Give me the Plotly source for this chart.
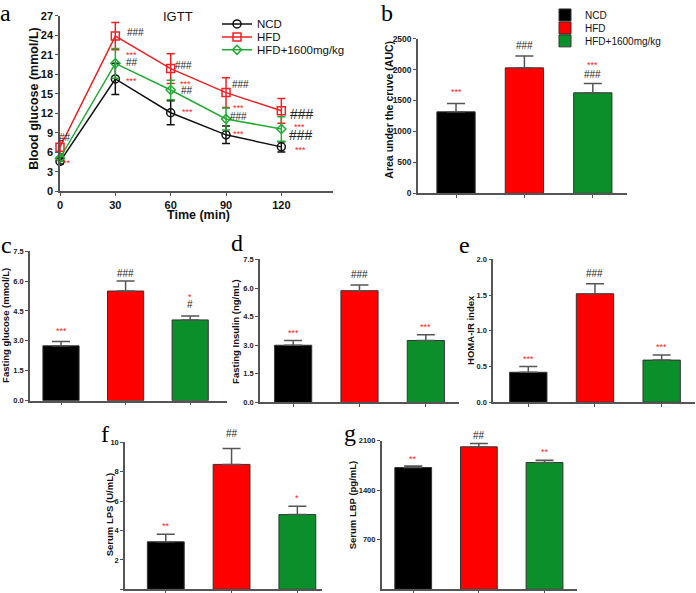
import plotly.graph_objects as go

# groups and colours
groups = ["NCD", "HFD", "HFD+1600mg/kg"]
bar_colors = ["#000000", "#ff0000", "#0a8f2a"]
line_colors = ["#111111", "#ee2222", "#22aa33"]
symbols = ["circle-open", "square-open", "diamond-open"]

# panel a - IGTT
time_min = [0, 30, 60, 90, 120]
glucose_ncd = [4.6, 17.3, 12.1, 8.7, 6.85]
glucose_ncd_sd = [0.4, 2.4, 1.85, 1.35, 0.8]
glucose_hfd = [6.8, 23.9, 18.9, 15.2, 12.4]
glucose_hfd_sd = [1.0, 2.1, 2.3, 2.3, 1.9]
glucose_trt = [5.1, 19.7, 15.6, 11.15, 9.6]
glucose_trt_sd = [0.5, 2.3, 1.5, 1.7, 1.9]

# bar panels
auc = [1317, 2027, 1624]
auc_sd = [135, 193, 150]
fast_glu = [2.75, 5.5, 4.05]
fast_glu_sd = [0.22, 0.5, 0.2]
fast_ins = [3.0, 5.86, 3.25]
fast_ins_sd = [0.25, 0.3, 0.3]
homa = [0.42, 1.52, 0.59]
homa_sd = [0.08, 0.14, 0.07]
lps = [3.23, 8.49, 5.08]
lps_sd = [0.52, 1.08, 0.56]
lbp = [1719, 2011, 1790]
lbp_sd = [20, 47, 33]

# significance marks (text, x, y, kind) per panel
marks_a = [("###", 40.8, 24.4, "h"), ("***", 39.0, 21.0, "s"), ("##", 39.3, 19.8, "h"), ("***", 38.6, 17.0, "s"),
           ("###", 66.7, 19.3, "h"), ("***", 68, 16.6, "s"), ("##", 68.9, 15.5, "h"), ("***", 69.2, 12.2, "s"),
           ("###", 97.9, 16.4, "h"), ("***", 96.6, 12.8, "s"), ("###", 97, 11.5, "h"), ("***", 96.6, 8.8, "s"),
           ("###", 131.4, 11.9, "H"), ("***", 130.1, 9.9, "s"), ("###", 130.5, 8.6, "H"), ("***", 130.5, 6.4, "s"),
           ("##", 2.7, 8.3, "h"), ("**", 3.6, 4.3, "s")]
marks_b = [("***", 0, 1640, "s"), ("###", 1, 2382, "h"), ("***", 2, 2070, "s"), ("###", 2, 1919, "h")]
marks_c = [("***", 0, 3.5, "s"), ("###", 1, 6.4, "h"), ("*", 2, 5.2, "s"), ("#", 2, 4.8, "h")]
marks_d = [("***", 0, 3.65, "s"), ("###", 1, 6.7, "h"), ("***", 2, 3.95, "s")]
marks_e = [("***", 0, 0.6, "s"), ("###", 1, 1.8, "h"), ("***", 2, 0.77, "s")]
marks_f = [("**", 0, 4.3, "s"), ("##", 1, 10.56, "h"), ("*", 2, 6.2, "s")]
marks_g = [("**", 0, 1837, "s"), ("##", 1, 2175, "h"), ("**", 2, 1940, "s")]

W, H = 696, 593
FONT = "Liberation Sans, Arial"


def px(x):
    return x / W


def py(y):
    return 1 - y / H


fig = go.Figure()

# one legend box per entry so the rows can sit as tight as in the original
legends_a = ["legend", "legend3", "legend4"]
legends_b = ["legend2", "legend5", "legend6"]

# ---- panel a
series = [(glucose_ncd, glucose_ncd_sd), (glucose_hfd, glucose_hfd_sd), (glucose_trt, glucose_trt_sd)]
for i, (vals, sd) in enumerate(series):
    fig.add_trace(go.Scatter(
        x=time_min, y=vals, name=groups[i], mode="lines+markers",
        line=dict(color=line_colors[i], width=1.5),
        marker=dict(symbol=symbols[i], size=8 if i < 2 else 7, color=line_colors[i], line=dict(width=1.5)),
        error_y=dict(type="data", array=sd, color=line_colors[i], thickness=1.5, width=4),
        cliponaxis=False, xaxis="x", yaxis="y", legend=legends_a[i]))

# ---- bar panels: (axis id, values, sd, x domain px, y domain px, x range, y range, tick values, marks, in legend)
bar_panels = [
    (2, auc, auc_sd, (418, 627), (192, 36.7), (-0.556, 2.5), (0, 2500), [0, 500, 1000, 1500, 2000, 2500], marks_b, True),
    (3, fast_glu, fast_glu_sd, (30, 227), (400, 250), (-0.48, 2.57), (0, 7.5), [0, 1.5, 3, 4.5, 6, 7.5], marks_c, False),
    (4, fast_ins, fast_ins_sd, (260, 459), (401.8, 258.3), (-0.5, 2.5), (0, 7.5), [0, 1.5, 3, 4.5, 6, 7.5], marks_d, False),
    (5, homa, homa_sd, (493.3, 695), (401.6, 258.3), (-0.525, 2.5), (0, 2), [0, 0.5, 1, 1.5, 2], marks_e, False),
    (6, lps, lps_sd, (125, 321.7), (589.3, 441.7), (-0.62, 2.37), (0, 10), [0, 2, 4, 6, 8, 10], marks_f, False),
    (7, lbp, lbp_sd, (381.7, 576.7), (589.3, 440), (-0.48, 2.49), (0, 2100), [700, 1400, 2100], marks_g, False),
]

axis_common = dict(showline=True, linecolor="#555555", linewidth=1.5, ticks="outside",
                   tickcolor="#555555", tickwidth=1.2, showgrid=False, zeroline=False)

annotations = []


def add_marks(marks, xref, yref, ymax=None, big=10):
    for text, x, y, kind in marks:
        if kind == "s":
            f = dict(family=FONT, size=9, color="#ff2020")
        else:
            f = dict(family=FONT, size=14 if kind == "H" else big, color="#222222")
        # bar panels use the domain ref so marks above the axis top are still drawn
        yy = y / ymax if ymax else y
        annotations.append(dict(text=text, x=x, y=yy, xref=xref, yref=yref, showarrow=False,
                                xanchor="center", yanchor="middle", font=f))


for ax, vals, sd, xd, yd, xr, yr, tv, marks, show_leg in bar_panels:
    for i in range(3):
        fig.add_trace(go.Bar(
            x=[i], y=[vals[i]], name=groups[i], width=0.56,
            marker=dict(color=bar_colors[i], line=dict(color="#333333", width=1)),
            error_y=dict(type="data", symmetric=False, array=[sd[i]], arrayminus=[0],
                         color="#555555", thickness=1.5, width=9),
            showlegend=show_leg, legend=legends_b[i],
            xaxis="x%d" % ax, yaxis="y%d" % ax))
    fig.layout["xaxis%d" % ax] = dict(domain=[px(xd[0]), px(xd[1])], range=list(xr), anchor="y%d" % ax,
                                      tickvals=[0, 1, 2], showticklabels=False, ticklen=3, **axis_common)
    fig.layout["yaxis%d" % ax] = dict(domain=[py(yd[0]), py(yd[1])], range=list(yr), anchor="x%d" % ax,
                                      tickvals=tv, tickformat=".1f" if ax in (3, 4, 5) else "d", ticklen=3,
                                      tickfont=dict(family=FONT, size=8.5 if ax == 2 else 7.5, color="#222222",
                                                    weight="bold"),
                                      **axis_common)
    add_marks(marks, "x%d" % ax, "y%d domain" % ax, ymax=yr[1])

add_marks(marks_a, "x", "y")

fig.update_layout(
    xaxis=dict(domain=[px(60), px(333)], range=[0, 148], anchor="y", tickvals=time_min, ticklen=3,
               tickfont=dict(family=FONT, size=11, color="#111111", weight="bold"), **axis_common),
    yaxis=dict(domain=[py(190), py(14)], range=[0, 27], anchor="x", tickvals=list(range(0, 28, 3)), ticklen=3,
               tickfont=dict(family=FONT, size=11, color="#111111", weight="bold"), **axis_common),
)

# titles and panel letters
texts = [
    ("Blood glucose (mmol/L)", 34, 97, 12.5),
    ("Time (min)", 198, 214, 12.5),
    ("Area under the cruve (AUC)", 389, 108, 10.5),
    ("Fasting glucose (mmol/L)", 6, 325, 9.5),
    ("Fasting Insulin (ng/mL)", 236, 330, 9.5),
    ("HOMA-IR index", 471, 329, 9.5),
    ("Serum LPS (U/mL)", 109, 514, 9.5),
    ("Serum LBP (pg/mL)", 352, 505, 9.5),
]
for i, (t, x, y, s) in enumerate(texts):
    annotations.append(dict(text=t, x=px(x), y=py(y), xref="paper", yref="paper", showarrow=False,
                            xanchor="center", yanchor="middle", textangle=0 if i == 1 else -90,
                            font=dict(family=FONT, size=s, color="#111111", weight="bold")))
annotations.append(dict(text="IGTT", x=px(178), y=py(15), xref="paper", yref="paper", showarrow=False,
                        xanchor="center", yanchor="middle", font=dict(family=FONT, size=13, color="#111111")))

letters = [("a", 5, 11), ("b", 387, 11), ("c", 6, 244), ("d", 237, 242), ("e", 464, 244), ("f", 105, 433), ("g", 350, 432)]
for t, x, y in letters:
    annotations.append(dict(text=t, x=px(x), y=py(y), xref="paper", yref="paper", showarrow=False,
                            xanchor="center", yanchor="middle",
                            font=dict(family="Liberation Serif, Times New Roman", size=24, color="#000000")))

leg_style = dict(xanchor="left", yanchor="middle", bgcolor="rgba(0,0,0,0)", itemwidth=30,
                 borderwidth=0, tracegroupgap=0)
layout_legends = {}
for name, row_y in zip(legends_a, [22, 35, 48]):
    layout_legends[name] = dict(x=px(217), y=py(row_y), font=dict(family=FONT, size=11.5, color="#111111"), **leg_style)
for name, row_y in zip(legends_b, [13, 26, 39]):
    layout_legends[name] = dict(x=px(545), y=py(row_y), font=dict(family=FONT, size=10, color="#111111"), **leg_style)

fig.update_layout(
    width=W, height=H, template="none",
    margin=dict(l=0, r=0, t=0, b=0),
    paper_bgcolor="white", plot_bgcolor="white",
    barmode="overlay", showlegend=True,
    annotations=annotations,
    **layout_legends
)

fig.write_html("out.html", config={"displayModeBar": False},
               post_script="document.body.style.margin='0px';")
